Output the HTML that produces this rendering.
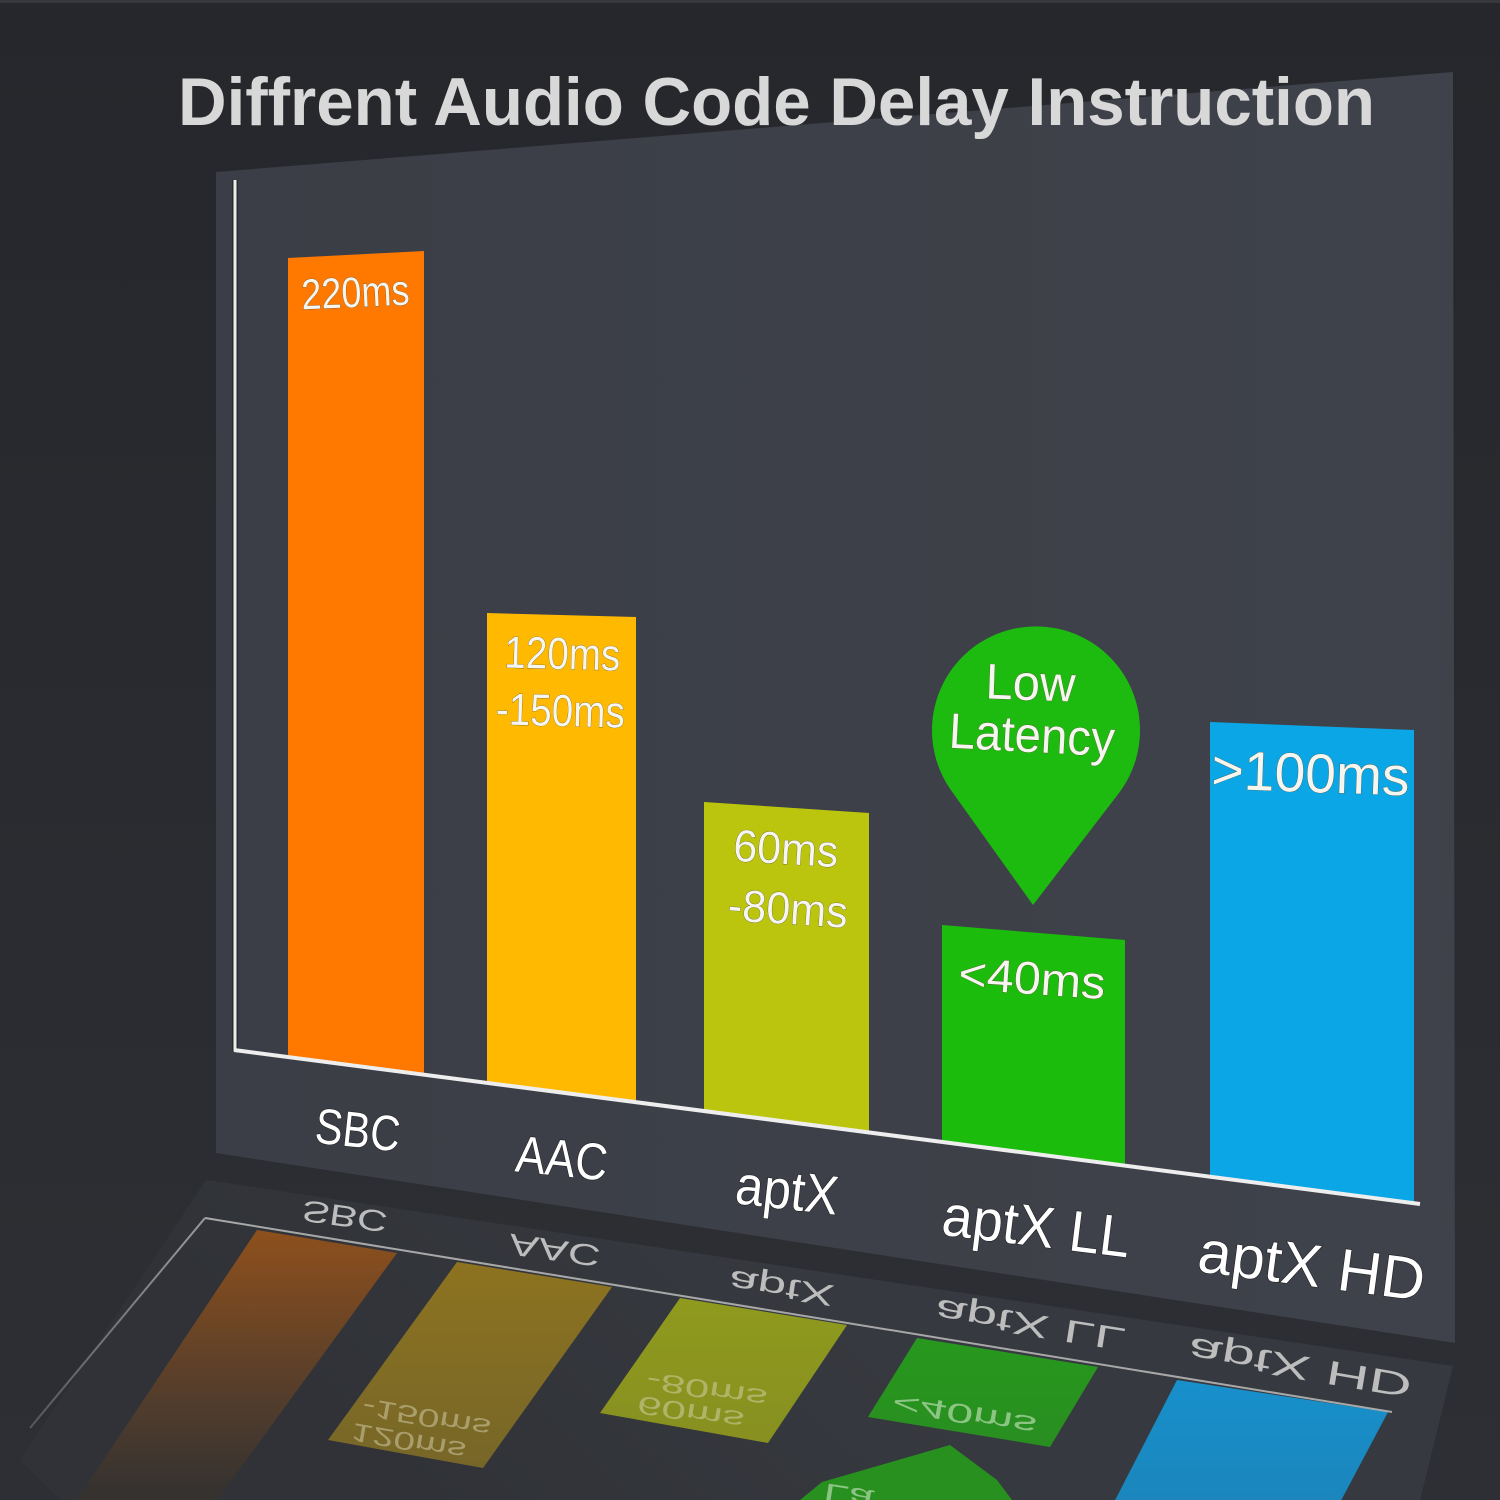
<!DOCTYPE html>
<html><head><meta charset="utf-8"><style>
html,body{margin:0;padding:0;background:#2a2c31;}
svg{display:block;}
text{font-family:"Liberation Sans",Arial,sans-serif;}
</style></head><body>
<svg width="1500" height="1500" viewBox="0 0 1500 1500" xmlns="http://www.w3.org/2000/svg">
<defs>
 <linearGradient id="bg" x1="0" y1="0" x2="0" y2="1"><stop offset="0" stop-color="#25272c"/><stop offset="1" stop-color="#2d2f34"/></linearGradient>
 <linearGradient id="pn" x1="0" y1="0" x2="1" y2="0"><stop offset="0" stop-color="#3b3e46"/><stop offset="1" stop-color="#3f424a"/></linearGradient>
 <linearGradient id="rp" gradientUnits="userSpaceOnUse" x1="700" y1="1180" x2="400" y2="1500"><stop offset="0" stop-color="#36393f"/><stop offset="1" stop-color="#303237"/></linearGradient>
 <linearGradient id="gS" gradientUnits="userSpaceOnUse" x1="0" y1="1230" x2="0" y2="1490"><stop offset="0" stop-color="#8e501c"/><stop offset="0.75" stop-color="#4a3a2e"/><stop offset="1" stop-color="#36322f"/></linearGradient>
 <linearGradient id="gA" gradientUnits="userSpaceOnUse" x1="0" y1="1262" x2="0" y2="1470"><stop offset="0" stop-color="#8d7320"/><stop offset="1" stop-color="#766628"/></linearGradient>
 <linearGradient id="gX" gradientUnits="userSpaceOnUse" x1="0" y1="1298" x2="0" y2="1443"><stop offset="0" stop-color="#8f9a1e"/><stop offset="1" stop-color="#879020"/></linearGradient>
 <linearGradient id="gL" gradientUnits="userSpaceOnUse" x1="0" y1="1338" x2="0" y2="1447"><stop offset="0" stop-color="#27981d"/><stop offset="1" stop-color="#288e20"/></linearGradient>
 <linearGradient id="gH" gradientUnits="userSpaceOnUse" x1="0" y1="1380" x2="0" y2="1500"><stop offset="0" stop-color="#1890cc"/><stop offset="1" stop-color="#1a86bc"/></linearGradient>
 <linearGradient id="ax" gradientUnits="userSpaceOnUse" x1="205" y1="1218" x2="30" y2="1428"><stop offset="0" stop-color="#9a9a9c"/><stop offset="1" stop-color="#55575b"/></linearGradient>
</defs>

<rect x="0" y="0" width="1500" height="1500" fill="url(#bg)"/>
<rect x="0" y="0" width="1500" height="3" fill="#37383c"/>

<polygon points="216,172 1453,72 1455,1343 216,1153" fill="url(#pn)"/>

<polygon points="206,1180 1453,1366 1420,1500 60,1500 20,1460" fill="url(#rp)"/>

<text x="178" y="125" font-size="68" font-weight="bold" fill="#d8d8d8" textLength="1197" lengthAdjust="spacingAndGlyphs">Diffrent Audio Code Delay Instruction</text>

<polygon points="288,258 424,251 424,1074 288,1057" fill="#ff7800"/>
<polygon points="487,613 636,617 636,1102 487,1083" fill="#ffb900"/>
<polygon points="704,802 869,813 869,1132 704,1110" fill="#bcc50e"/>
<polygon points="942,925 1125,940 1125,1165 942,1141" fill="#1cbc0d"/>
<polygon points="1210,722 1414,730 1414,1202 1210,1176" fill="#0aa6e6"/>

<path d="M1033,905 L953,793 A104,104 0 1 1 1119,793 Z" fill="#1dbb10"/>

<line x1="235" y1="180" x2="235" y2="1051" stroke="#2a2c30" stroke-width="6"/>
<line x1="235" y1="180" x2="235" y2="1051" stroke="#eeeeee" stroke-width="3"/>
<line x1="234" y1="1050" x2="1420" y2="1204" stroke="#eeeeee" stroke-width="4"/>

<g fill="#f6f6f0" stroke="#5a4a2a" stroke-width="0.6" paint-order="stroke">
<text x="356" y="307" font-size="43" text-anchor="middle" textLength="108" lengthAdjust="spacingAndGlyphs" transform="rotate(-2.5 356 307)">220ms</text>
<text x="562" y="669" font-size="45" text-anchor="middle" textLength="116" lengthAdjust="spacingAndGlyphs" transform="rotate(1.5 562 669)">120ms</text>
<text x="560" y="726" font-size="45" text-anchor="middle" textLength="129" lengthAdjust="spacingAndGlyphs" transform="rotate(1.5 560 726)">-150ms</text>
<text x="785" y="864" font-size="45" text-anchor="middle" textLength="105" lengthAdjust="spacingAndGlyphs" transform="rotate(3.5 785 864)">60ms</text>
<text x="787" y="924" font-size="45" text-anchor="middle" textLength="120" lengthAdjust="spacingAndGlyphs" transform="rotate(3.5 787 924)">-80ms</text>
<text x="1031" y="994" font-size="46" text-anchor="middle" textLength="147" lengthAdjust="spacingAndGlyphs" transform="rotate(4 1031 994)">&lt;40ms</text>
<text x="1310" y="792" font-size="55" text-anchor="middle" textLength="198" lengthAdjust="spacingAndGlyphs" transform="rotate(2 1310 792)">&gt;100ms</text>
<text x="1030" y="700" font-size="50" text-anchor="middle" textLength="90" lengthAdjust="spacingAndGlyphs" transform="rotate(2 1030 700)">Low</text>
<text x="1031" y="752" font-size="50" text-anchor="middle" textLength="166" lengthAdjust="spacingAndGlyphs" transform="rotate(3 1031 752)">Latency</text>
</g>

<g fill="#ffffff" stroke="#1e1f22" stroke-width="1.2" paint-order="stroke">
<text x="356" y="1147" font-size="50" text-anchor="middle" textLength="85" lengthAdjust="spacingAndGlyphs" transform="rotate(6 356 1147)">SBC</text>
<text x="560" y="1176" font-size="52" text-anchor="middle" textLength="92" lengthAdjust="spacingAndGlyphs" transform="rotate(6 560 1176)">AAC</text>
<text x="785" y="1209" font-size="55" text-anchor="middle" textLength="103" lengthAdjust="spacingAndGlyphs" transform="rotate(6.5 785 1209)">aptX</text>
<text x="1034" y="1246" font-size="58" text-anchor="middle" textLength="189" lengthAdjust="spacingAndGlyphs" transform="rotate(7 1034 1246)">aptX LL</text>
<text x="1309" y="1286" font-size="60" text-anchor="middle" textLength="228" lengthAdjust="spacingAndGlyphs" transform="rotate(7.5 1309 1286)">aptX HD</text>
</g>

<polygon points="257,1230 397,1253 210,1510 70,1510" fill="url(#gS)"/>
<polygon points="457,1262 612,1287 483,1468 328,1440" fill="url(#gA)"/>
<polygon points="680,1298 847,1325 768,1443 600,1413" fill="url(#gX)"/>
<polygon points="917,1338 1098,1367 1050,1447 868,1417" fill="url(#gL)"/>
<polygon points="1177,1380 1388,1412 1336,1510 1110,1510" fill="url(#gH)"/>
<polygon points="800,1500 822,1482 950,1445 997,1480 1012,1500" fill="#27901e"/>

<line x1="205" y1="1218" x2="1392" y2="1412" stroke="#a8a8a8" stroke-width="2"/>
<line x1="205" y1="1218" x2="30" y2="1428" stroke="url(#ax)" stroke-width="2"/>

<g fill="#bdbdbd">
<g transform="translate(346,1206) rotate(8) scale(1,-0.75)"><text x="0" y="0" font-size="40" text-anchor="middle" textLength="86" lengthAdjust="spacingAndGlyphs">SBC</text></g>
<g transform="translate(556,1240) rotate(8) scale(1,-0.75)"><text x="0" y="0" font-size="40" text-anchor="middle" textLength="92" lengthAdjust="spacingAndGlyphs">AAC</text></g>
<g transform="translate(783,1278) rotate(8.5) scale(1,-0.72)"><text x="0" y="0" font-size="42" text-anchor="middle" textLength="106" lengthAdjust="spacingAndGlyphs">aptX</text></g>
<g transform="translate(1032,1314) rotate(9) scale(1,-0.7)"><text x="0" y="0" font-size="46" text-anchor="middle" textLength="192" lengthAdjust="spacingAndGlyphs">aptX LL</text></g>
<g transform="translate(1302,1356) rotate(9.5) scale(1,-0.68)"><text x="0" y="0" font-size="50" text-anchor="middle" textLength="226" lengthAdjust="spacingAndGlyphs">aptX HD</text></g>
</g>

<g fill="#d8d4b0" fill-opacity="0.5">
<g transform="translate(428,1409) rotate(10) scale(1,-0.75)"><text x="0" y="0" font-size="34" text-anchor="middle" textLength="130" lengthAdjust="spacingAndGlyphs">-150ms</text></g>
<g transform="translate(410,1433) rotate(10) scale(1,-0.75)"><text x="0" y="0" font-size="34" text-anchor="middle" textLength="116" lengthAdjust="spacingAndGlyphs">120ms</text></g>
<g transform="translate(708,1381) rotate(9) scale(1,-0.75)"><text x="0" y="0" font-size="34" text-anchor="middle" textLength="122" lengthAdjust="spacingAndGlyphs">-80ms</text></g>
<g transform="translate(692,1404) rotate(9) scale(1,-0.75)"><text x="0" y="0" font-size="34" text-anchor="middle" textLength="108" lengthAdjust="spacingAndGlyphs">60ms</text></g>
</g>
<g fill="#cfe8c8" fill-opacity="0.6">
<g transform="translate(966,1405) rotate(10) scale(1,-0.75)"><text x="0" y="0" font-size="36" text-anchor="middle" textLength="146" lengthAdjust="spacingAndGlyphs">&lt;40ms</text></g>
<g transform="translate(850,1487) rotate(9) scale(1,-0.7)"><text x="0" y="0" font-size="36" text-anchor="middle" textLength="50" lengthAdjust="spacingAndGlyphs">La</text></g>
</g>
</svg>
</body></html>
